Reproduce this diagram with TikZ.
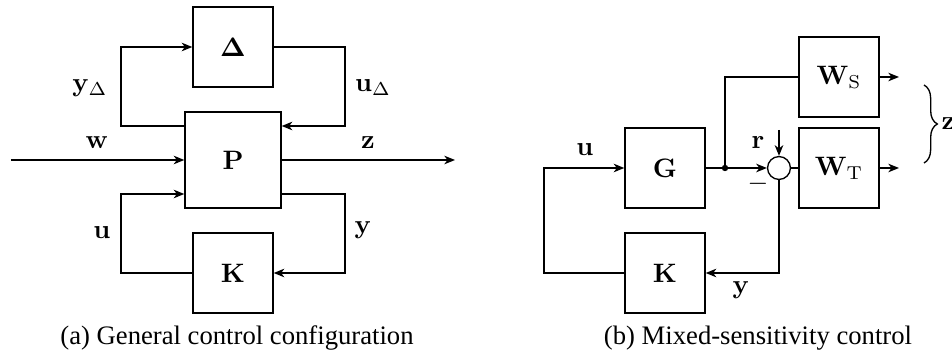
\documentclass[tikz,border=0pt]{standalone}
\usepackage{amsmath}
\usepackage[no-math]{fontspec}
\setmainfont{Liberation Serif}
\usetikzlibrary{arrows.meta,decorations.pathreplacing}
\begin{document}
\begin{tikzpicture}[x=0.375pt,y=-0.375pt,
  blk/.style={draw,line width=0.5pt,minimum size=30pt,inner sep=0pt},
  arr/.style={-{Stealth[length=4pt,width=3.2pt,inset=1.2pt]}},
  ln/.style={line width=0.5pt},
  lbl/.style={inner sep=0pt}]
\useasboundingbox (0,0) rectangle (952,356);
% ---------- (a) ----------
\node[blk] (D) at (233,47) {$\boldsymbol{\Delta}$};
\node[blk,minimum size=36pt] (P) at (233,160) {$\mathbf{P}$};
\node[blk] (K1) at (233,273) {$\mathbf{K}$};
\coordinate (a1) at (121,126);
\coordinate (b1) at (345,126);
\coordinate (c1) at (345,194);
\coordinate (c2) at (121,194);
\coordinate (win) at (11,160);
\coordinate (zout) at (455,160);
\draw[ln,arr] (P.west |- a1) -- (a1) |- (D.west);
\draw[ln,arr] (D.east) -| (b1) -- (P.east |- b1);
\draw[ln,arr] (win) -- (P.west);
\draw[ln,arr] (P.east) -- (zout);
\draw[ln,arr] (P.east |- c1) -- (c1) |- (K1.east);
\draw[ln,arr] (K1.west) -| (c2) -- (P.west |- c2);
\node[lbl] (lyd) at (90,88) {$\mathbf{y}_\Delta$};
\node[lbl] (lud) at (373,88) {$\mathbf{u}_\Delta$};
\node[lbl] (lw) at (97,143) {$\mathbf{w}$};
\node[lbl] (lz) at (368,143) {$\mathbf{z}$};
\node[lbl] (lu1) at (102,233) {$\mathbf{u}$};
\node[lbl] (ly1) at (363,230) {$\mathbf{y}$};
\node (capa) at (237,338) {(a) General control configuration};
% ---------- (b) ----------
\node[blk] (WS) at (839,77) {$\mathbf{W}_\mathrm{S}$};
\node[blk] (WT) at (839,168) {$\mathbf{W}_\mathrm{T}$};
\node[blk] (G) at (665,168) {$\mathbf{G}$};
\node[blk] (K2) at (665,273) {$\mathbf{K}$};
\node[draw,ln,circle,minimum size=8.6pt,inner sep=0pt] (S) at (779,168) {};
\coordinate (J) at (725,168);
\coordinate (rin) at (779,130);
\coordinate (lft) at (544,273);
\coordinate (ws2) at (899,77);
\coordinate (wt2) at (899,168);
\draw[ln] (G.east) -- (J);
\draw[ln,arr] (J) -- (S.west);
\fill (J) circle (1.2pt);
\draw[ln] (J) |- (WS.west);
\draw[ln] (S.east) -- (WT.west);
\draw[ln,arr] (rin) -- (S.north);
\draw[ln,arr] (S.south) |- (K2.east);
\draw[ln,arr] (K2.west) -| (lft) |- (G.west);
\draw[ln,arr] (WS.east) -- (ws2);
\draw[ln,arr] (WT.east) -- (wt2);
\coordinate (bt) at (924,85);
\coordinate (bb) at (924,163);
\draw[ln,decorate,decoration={brace,amplitude=5pt}] (bt) -- (bb);
\node[lbl,anchor=west] (lz2) at (941,124) {$\mathbf{z}$};
\node[lbl] (lu2) at (585,150) {$\mathbf{u}$};
\node[lbl] (ly2) at (741,290) {$\mathbf{y}$};
\node[lbl] (lr) at (758,143) {$\mathbf{r}$};
\node[lbl] (lm) at (758,184) {$-$};
\node (capb) at (758,338) {(b) Mixed-sensitivity control};
\end{tikzpicture}
\end{document}
